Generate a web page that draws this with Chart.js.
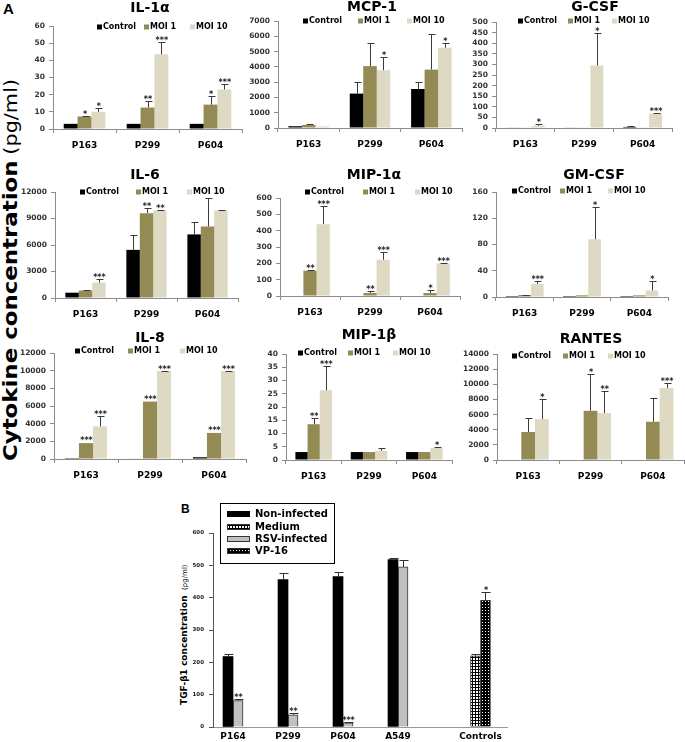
<!DOCTYPE html>
<html>
<head>
<meta charset="utf-8">
<script src="https://cdn.jsdelivr.net/npm/chart.js@4.4.1/dist/chart.umd.min.js"></script>
<style>
  body { margin: 0; background: #fff; }
  #page { position: relative; width: 685px; height: 742px; overflow: hidden; background: #fff; }
  #page canvas { position: absolute; }
  .lbl { position: absolute; font-weight: bold; color: #000; white-space: nowrap; }
</style>
</head>
<body>
<div id="page">
  <div class="lbl" style="left:3px;top:0px;font:bold 15px 'Liberation Sans',Arial,sans-serif;">A</div>
  <div class="lbl" style="left:181px;top:502px;font:bold 12px 'Liberation Sans',Arial,sans-serif;">B</div>
  <div class="lbl" style="left:-184px;top:258px;width:390px;height:24px;line-height:24px;text-align:center;transform:rotate(-90deg) scale(1.04,0.86);font-family:'DejaVu Sans',sans-serif;">
    <span style="font-size:22px;font-weight:bold;">Cytokine concentration</span>
    <span style="font-size:20px;font-weight:normal;">(pg/ml)</span>
  </div>
  <div class="lbl" style="left:112px;top:629px;width:140px;height:12px;line-height:12px;text-align:center;transform:rotate(-90deg);font-family:'DejaVu Sans',sans-serif;">
    <span style="font-size:9px;font-weight:bold;">TGF-&beta;1 concentration</span>
    <span style="font-size:7px;font-weight:normal;">(pg/ml)</span>
  </div>
</div>
<script>
// ---- data: panel A ----
const categories = ['P163', 'P299', 'P604'];
const seriesNames = ['Control', 'MOI 1', 'MOI 10'];

// [max, step] of each value axis
const il1aAxis = [60, 10];
const il1aValues = [[3, 3, 3], [7.3, 12.5, 14.2], [10, 43.5, 23]];
const il1aErrors = [[0, 0, 0], [0.5, 4, 5.3], [2, 7, 3.5]];
const il1aStars = [['', '', ''], ['*', '**', '*'], ['*', '***', '***']];

const mcp1Axis = [7000, 1000];
const mcp1Values = [[120, 2250, 2550], [200, 4050, 3820], [100, 3780, 5250]];
const mcp1Errors = [[30, 730, 450], [30, 1530, 2330], [0, 840, 280]];
const mcp1Stars = [['', '', ''], ['', '', ''], ['', '*', '*']];

const gcsfAxis = [500, 50];
const gcsfValues = [[2, 2, 5], [2, 2, 2], [10, 295, 68]];
const gcsfErrors = [[0, 0, 5], [0, 0, 0], [7, 155, 5]];
const gcsfStars = [['', '', ''], ['', '', ''], ['*', '*', '***']];

const il6Axis = [12000, 3000];
const il6Values = [[600, 5450, 7200], [850, 9600, 8100], [1750, 9900, 9900]];
const il6Errors = [[0, 1700, 1400], [50, 550, 3200], [350, 100, 50]];
const il6Stars = [['', '', ''], ['', '**', ''], ['***', '**', '']];

const mip1aAxis = [600, 100];
const mip1aValues = [[3, 3, 3], [155, 18, 18], [440, 222, 200]];
const mip1aErrors = [[0, 0, 0], [3, 10, 17], [110, 50, 5]];
const mip1aStars = [['', '', ''], ['**', '**', '*'], ['***', '***', '***']];

const gmcsfAxis = [160, 40];
const gmcsfValues = [[1.5, 1.5, 1.5], [3, 2.5, 2.5], [20, 88, 10]];
const gmcsfErrors = [[0, 0, 0], [0.5, 0, 0], [4, 49, 14]];
const gmcsfStars = [['', '', ''], ['', '', ''], ['***', '*', '*']];

const il8Axis = [12000, 2000];
const il8Values = [[100, 50, 200], [1800, 6500, 2950], [3700, 9950, 9950]];
const il8Errors = [[0, 0, 0], [0, 0, 0], [1150, 50, 50]];
const il8Stars = [['', '', ''], ['***', '***', '***'], ['***', '***', '***']];

const mip1bAxis = [40, 5];
const mip1bValues = [[3, 3, 3], [13.5, 3, 3], [26.3, 3.5, 4.5]];
const mip1bErrors = [[0, 0, 0], [2.5, 0, 0], [9.2, 1, 0.3]];
const mip1bStars = [['', '', ''], ['**', '', ''], ['***', '', '*']];

const rantesAxis = [14000, 2000];
const rantesValues = [[0, 0, 0], [3700, 6500, 5050], [5400, 6200, 9500]];
const rantesErrors = [[0, 0, 0], [1800, 4900, 3150], [2600, 2900, 650]];
const rantesStars = [['', '', ''], ['', '*', ''], ['*', '**', '***']];

// ---- data: panel B ----
const bCategories = ['P164', 'P299', 'P604', 'A549', 'Controls'];
const bAxis = [600, 100];
const bLegend = ['Non-infected', 'Medium', 'RSV-infected', 'VP-16'];
const nonInfected = [218, 456, 465, 518, null];
const nonInfectedErr = [7, 20, 13, 6, null];
const medium = [null, null, null, null, 220];
const mediumErr = [null, null, null, null, 6];
const rsvInfected = [82, 38, 13, 495, null];
const rsvInfectedErr = [4, 4, 2, 21, null];
const rsvStars = ['**', '**', '***', '', ''];
const vp16 = [null, null, null, null, 392];
const vp16Err = [null, null, null, null, 24];
const vp16Stars = ['', '', '', '', '*'];

// ---- layout ----
const seriesColors = ['#000000', '#948A54', '#DDD9C3'];
const axisGray = '#8c8c8c';
const FONT = "'DejaVu Sans', Verdana, sans-serif";

const panels = [
  { title: 'IL-1\u03B1', axis: il1aAxis, values: il1aValues, errors: il1aErrors, stars: il1aStars,
    box: [53, 242, 26, 129], titleAt: [150, 8], legendXs: [97, 144, 190], legendY: 27 },
  { title: 'MCP-1', axis: mcp1Axis, values: mcp1Values, errors: mcp1Errors, stars: mcp1Stars,
    box: [278, 462, 21, 128], titleAt: [372, 7], legendXs: [303, 358, 407], legendY: 21 },
  { title: 'G-CSF', axis: gcsfAxis, values: gcsfValues, errors: gcsfErrors, stars: gcsfStars,
    box: [496, 672, 22, 128], titleAt: [595, 7], legendXs: [518, 568, 612], legendY: 21 },
  { title: 'IL-6', axis: il6Axis, values: il6Values, errors: il6Errors, stars: il6Stars,
    box: [55, 238, 192, 298], titleAt: [145, 175], legendXs: [80, 136, 187], legendY: 192 },
  { title: 'MIP-1\u03B1', axis: mip1aAxis, values: mip1aValues, errors: mip1aErrors, stars: mip1aStars,
    box: [280, 460, 198, 296], titleAt: [374, 175], legendXs: [305, 363, 415], legendY: 192 },
  { title: 'GM-CSF', axis: gmcsfAxis, values: gmcsfValues, errors: gmcsfErrors, stars: gmcsfStars,
    box: [496, 668, 192, 297], titleAt: [594, 175], legendXs: [512, 560, 608], legendY: 191 },
  { title: 'IL-8', axis: il8Axis, values: il8Values, errors: il8Errors, stars: il8Stars,
    box: [54, 246, 353, 459], titleAt: [150, 338], legendXs: [75, 128, 180], legendY: 351 },
  { title: 'MIP-1\u03B2', axis: mip1bAxis, values: mip1bValues, errors: mip1bErrors, stars: mip1bStars,
    box: [286, 452, 354, 460], titleAt: [369, 335], legendXs: [298, 348, 393], legendY: 353 },
  { title: 'RANTES', axis: rantesAxis, values: rantesValues, errors: rantesErrors, stars: rantesStars,
    box: [497, 684, 354, 460], titleAt: [591, 339], legendXs: [512, 563, 608], legendY: 356 }
];

const page = document.getElementById('page');

function addCanvas(left, top, w, h) {
  const c = document.createElement('canvas');
  c.width = w; c.height = h;
  c.style.left = left + 'px'; c.style.top = top + 'px';
  c.style.width = w + 'px'; c.style.height = h + 'px';
  page.appendChild(c);
  return c;
}

// error bars, significance stars, titles and legends
const extras = {
  id: 'extras',
  afterDatasetsDraw(chart, args, o) {
    const ctx = chart.ctx;
    const yScale = chart.scales.y;
    ctx.save();
    ctx.lineWidth = 1;
    ctx.strokeStyle = o.errColor;
    ctx.fillStyle = '#222';
    ctx.font = o.starFont;
    ctx.textAlign = 'center';
    ctx.textBaseline = 'alphabetic';
    chart.data.datasets.forEach((ds, di) => {
      const meta = chart.getDatasetMeta(di);
      meta.data.forEach((bar, i) => {
        const v = ds.vals[i];
        if (v === null || v === undefined) return;
        const e = ds.errors[i] || 0;
        const x = Math.round(bar.x) + 0.5;
        let top = bar.y;
        if (e > 0) {
          const ey = Math.round(yScale.getPixelForValue(v + e)) + 0.5;
          ctx.beginPath();
          ctx.moveTo(x, bar.y);
          ctx.lineTo(x, ey);
          ctx.moveTo(x - o.cap, ey);
          ctx.lineTo(x + o.cap + 1, ey);
          ctx.stroke();
          top = ey;
        }
        const s = ds.stars && ds.stars[i];
        if (s) ctx.fillText(s, bar.x + 0.5, top + o.starDy);
      });
    });
    if (o.title) {
      ctx.fillStyle = '#000';
      ctx.font = 'bold 14px ' + FONT;
      ctx.textBaseline = 'middle';
      ctx.fillText(o.title, o.titleAt[0] - o.offX, o.titleAt[1] - o.offY);
    }
    if (o.legendXs) {
      ctx.font = 'bold 8px ' + FONT;
      ctx.textAlign = 'left';
      ctx.textBaseline = 'middle';
      chart.data.datasets.forEach((ds, di) => {
        const lx = o.legendXs[di] - o.offX, ly = o.legendY - o.offY;
        ctx.fillStyle = ds.backgroundColor;
        ctx.fillRect(lx, ly - 2.5, 5, 5);
        ctx.fillStyle = '#000';
        ctx.fillText(ds.label, lx + 6, ly);
      });
    }
    if (o.boxLegend) {
      const b = o.boxLegend;
      const bx = b.box[0] - o.offX, by = b.box[1] - o.offY;
      ctx.strokeStyle = '#000';
      ctx.strokeRect(bx + 0.5, by + 0.5, b.box[2] - b.box[0], b.box[3] - b.box[1]);
      ctx.font = 'bold 10px ' + FONT;
      ctx.textAlign = 'left';
      ctx.textBaseline = 'middle';
      b.labels.forEach((t, k) => {
        const ry = b.rows[k] - o.offY;
        ctx.fillStyle = b.fills[k];
        ctx.fillRect(bx + 7, ry - 3, 23, 6);
        if (b.borders[k]) {
          ctx.strokeStyle = '#333';
          ctx.strokeRect(bx + 7.5, ry - 2.5, 22, 5);
        }
        ctx.fillStyle = '#000';
        ctx.fillText(t, bx + 35, ry);
      });
    }
    ctx.restore();
  }
};

// ---- panel A charts ----
panels.forEach(p => {
  const yW = 52, topPad = 30, xH = 26, rightPad = 4;
  const [L, R, T, B] = p.box;
  const left = L - yW, top = T - topPad;
  const w = yW + (R - L) + rightPad, h = topPad + (B - T) + xH;
  const canvas = addCanvas(left, top, w, h);
  new Chart(canvas, {
    type: 'bar',
    data: {
      labels: categories,
      datasets: seriesNames.map((n, s) => ({
        label: n,
        data: p.values[s],
        vals: p.values[s],
        errors: p.errors[s],
        stars: p.stars[s],
        backgroundColor: seriesColors[s],
        borderWidth: 0,
        categoryPercentage: 0.66,
        barPercentage: 1
      }))
    },
    options: {
      responsive: false,
      animation: false,
      devicePixelRatio: 1,
      layout: { padding: { top: topPad, right: rightPad, left: 0, bottom: 0 } },
      plugins: {
        legend: { display: false },
        tooltip: { enabled: false },
        extras: {
          offX: left, offY: top, errColor: '#3a3a3a', cap: 3, starDy: 0,
          starFont: 'bold 8px ' + FONT,
          title: p.title, titleAt: p.titleAt, legendXs: p.legendXs, legendY: p.legendY
        }
      },
      scales: {
        x: {
          grid: { display: true, drawOnChartArea: false, offset: true, tickLength: 4, color: axisGray },
          border: { color: axisGray },
          ticks: { font: { family: FONT, size: 9, weight: 'bold' }, color: '#000', padding: 7, maxRotation: 0, autoSkip: false },
          afterFit: s => { s.height = xH; }
        },
        y: {
          min: 0, max: p.axis[0],
          grid: { display: true, drawOnChartArea: false, tickLength: 4, color: axisGray },
          border: { color: axisGray },
          ticks: { stepSize: p.axis[1], autoSkip: false, font: { family: FONT, size: 7.5, weight: 'bold' }, color: '#333', padding: 4,
            callback: v => String(v) },
          afterFit: s => { s.width = yW; }
        }
      }
    },
    plugins: [extras]
  });
});

// ---- panel B chart ----
(function () {
  const bBox = [213, 507, 533, 727];
  const bSlots = [0, 1, 2, 3, 4.5];
  const bRange = [-0.364, 4.982];
  const yW = 30, topPad = 36, xH = 15, rightPad = 4;
  const [L, R, T, B] = bBox;
  const left = L - yW, top = T - topPad;
  const w = yW + (R - L) + rightPad, h = topPad + (B - T) + xH;
  const canvas = addCanvas(left, top, w, h);
  const ctx = canvas.getContext('2d');

  function pattern(bg, fg, pts, n) {
    const t = document.createElement('canvas');
    t.width = n; t.height = n;
    const c = t.getContext('2d');
    c.fillStyle = bg; c.fillRect(0, 0, n, n);
    c.fillStyle = fg;
    pts.forEach(q => c.fillRect(q[0], q[1], 1, 1));
    return ctx.createPattern(t, 'repeat');
  }
  const mediumFill = pattern('#ffffff', '#000000', [[1, 0], [0, 1], [1, 1], [2, 1], [1, 2]], 3);
  const vp16Fill = pattern('#000000', '#ffffff', [[2, 2]], 3);

  const series = [
    { label: bLegend[0], vals: nonInfected, errors: nonInfectedErr, stars: [], bg: '#000000', bw: 0 },
    { label: bLegend[1], vals: medium, errors: mediumErr, stars: [], bg: mediumFill, bw: 1 },
    { label: bLegend[2], vals: rsvInfected, errors: rsvInfectedErr, stars: rsvStars, bg: '#c0c0c0', bw: 1 },
    { label: bLegend[3], vals: vp16, errors: vp16Err, stars: vp16Stars, bg: vp16Fill, bw: 1 }
  ];

  new Chart(canvas, {
    type: 'bar',
    data: {
      datasets: series.map(s => ({
        label: s.label,
        data: bSlots.map((x, i) => ({ x: x, y: s.vals[i] })),
        vals: s.vals, errors: s.errors, stars: s.stars,
        backgroundColor: s.bg,
        borderColor: '#333',
        borderWidth: s.bw,
        barThickness: 10
      }))
    },
    options: {
      responsive: false,
      animation: false,
      devicePixelRatio: 1,
      skipNull: true,
      layout: { padding: { top: topPad, right: rightPad, left: 0, bottom: 0 } },
      plugins: {
        legend: { display: false },
        tooltip: { enabled: false },
        extras: {
          offX: left, offY: top, errColor: '#333', cap: 4, starDy: 0,
          starFont: 'bold 8px ' + FONT,
          boxLegend: {
            box: [220, 503, 334, 563],
            rows: [514, 527, 539, 551],
            labels: bLegend,
            fills: ['#000000', mediumFill, '#c0c0c0', vp16Fill],
            borders: [false, true, true, true]
          }
        }
      },
      scales: {
        x: {
          type: 'linear', offset: false,
          min: bRange[0], max: bRange[1],
          grid: { display: false, drawTicks: false, tickLength: 0 },
          border: { color: '#999' },
          afterBuildTicks: s => { s.ticks = bSlots.map(v => ({ value: v })); },
          ticks: { autoSkip: false, maxRotation: 0, padding: 4, color: '#000',
            font: { family: FONT, size: 9, weight: 'bold' },
            callback: (v, i) => bCategories[i] },
          afterFit: s => { s.height = xH; }
        },
        y: {
          min: 0, max: bAxis[0],
          grid: { display: true, drawOnChartArea: false, tickLength: 4, color: '#555' },
          border: { color: '#555' },
          ticks: { stepSize: bAxis[1], autoSkip: false, padding: 5, color: '#222',
            font: { family: FONT, size: 5.5, weight: 'bold' }, callback: v => String(v) },
          afterFit: s => { s.width = yW; }
        }
      }
    },
    plugins: [extras]
  });
})();
</script>
</body>
</html>
